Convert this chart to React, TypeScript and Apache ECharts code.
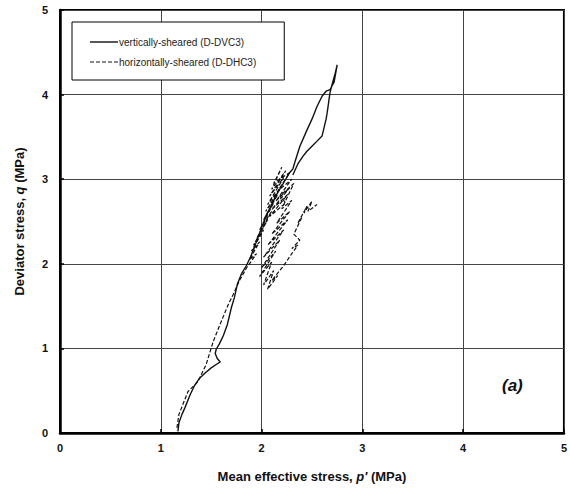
import React, { useEffect, useRef } from "react";
import * as echarts from "echarts";

const xTicks = [0, 1, 2, 3, 4, 5];
const yTicks = [0, 1, 2, 3, 4, 5];

const seriesNames = ["vertically-sheared (D-DVC3)", "horizontally-sheared (D-DHC3)"];

// vertically-sheared (D-DVC3): mean effective stress p' and deviator stress q (MPa)
const vertP = [
  1.17, 1.18, 1.21, 1.24, 1.29, 1.33, 1.38, 1.44, 1.5, 1.55, 1.59, 1.56, 1.54, 1.55, 1.58, 1.62, 1.66, 1.68,
  1.7, 1.73, 1.76, 1.8, 1.85, 1.89, 1.93, 1.97, 2.01, 2.05, 2.1, 2.15, 2.2, 2.25, 2.28, 2.31, 2.33, 2.38, 2.45,
  2.5, 2.55, 2.6, 2.64, 2.68, 2.72, 2.75, 2.73, 2.7, 2.68, 2.67, 2.66, 2.65, 2.64, 2.6, 2.55, 2.5, 2.45, 2.41,
  2.36, 2.31,
];
const vertQ = [
  0.02, 0.12, 0.22, 0.3, 0.45, 0.55, 0.64, 0.71, 0.77, 0.81, 0.84, 0.88, 0.94, 0.99, 1.05, 1.15, 1.28, 1.38,
  1.48, 1.6, 1.76, 1.88, 1.98, 2.08, 2.2, 2.33, 2.46, 2.58, 2.7, 2.82, 2.92, 3.02, 3.08, 3.12, 3.2, 3.39, 3.58,
  3.71, 3.86, 3.98, 4.04, 4.06, 4.15, 4.35, 4.25, 4.12, 4.03, 3.95, 3.86, 3.78, 3.71, 3.51, 3.45, 3.39, 3.33,
  3.27, 3.18, 3.05,
];

// horizontally-sheared (D-DHC3)
const horP = [
  1.16, 1.18, 1.27, 1.37, 1.45, 1.52, 1.59, 1.67, 1.72, 1.78, 1.85,
  1.95, 1.88, 1.98, 1.9, 2.02, 1.92, 2.06, 1.95, 2.1, 1.98, 2.12, 2.02, 2.16, 2.04, 2.2, 2.06, 2.22, 2.08,
  2.24, 2.1, 2.2, 2.12, 2.28, 2.16, 2.3, 2.14, 2.28, 2.1, 2.26, 2.08, 2.24, 2.18, 2.32, 2.2, 2.3, 2.15, 2.28,
  2.1, 2.26, 2.06, 2.22, 2.02, 2.18, 2.0, 2.14, 1.98, 2.1, 2.02, 2.12, 2.06, 2.16, 2.1, 2.22, 2.3, 2.36, 2.3,
  2.38, 2.32, 2.4, 2.36, 2.45, 2.42, 2.5, 2.46, 2.55,
];
const horQ = [
  0.06, 0.22, 0.49, 0.61, 0.81, 1.08, 1.29, 1.52, 1.64, 1.8, 1.95,
  2.12, 2.05, 2.26, 2.15, 2.4, 2.22, 2.52, 2.3, 2.62, 2.4, 2.72, 2.52, 2.82, 2.62, 2.92, 2.7, 3.02, 2.8,
  3.1, 2.88, 3.14, 2.95, 3.08, 2.86, 3.0, 2.74, 2.9, 2.64, 2.82, 2.56, 2.72, 2.8, 2.95, 2.65, 2.75, 2.48, 2.62,
  2.35, 2.52, 2.22, 2.4, 2.08, 2.28, 1.95, 2.15, 1.85, 2.02, 1.75, 1.92, 1.7, 1.86, 1.8, 1.98, 2.12, 2.22, 2.18,
  2.28, 2.35, 2.55, 2.48, 2.68, 2.6, 2.74, 2.62, 2.7,
];

const FONT = "'Liberation Sans', Arial, sans-serif";

const solidIcon = "path://M0,0h28v1.4h-28z";
const dashedIcon =
  "path://M0,0h4v1.2h-4zM6,0h4v1.2h-4zM12,0h4v1.2h-4zM18,0h4v1.2h-4zM24,0h4v1.2h-4z";

export default function App() {
  const ref = useRef<HTMLDivElement>(null);
  useEffect(() => {
    if (!ref.current) return;
    const chart = echarts.init(ref.current, undefined, { renderer: "svg" });
    const vertData = vertP.map((p, i) => [p, vertQ[i]]);
    const horData = horP.map((p, i) => [p, horQ[i]]);
    chart.setOption({
      animation: false,
      backgroundColor: "#fff",
      textStyle: { fontFamily: FONT },
      grid: {
        left: 60,
        right: 4,
        top: 10,
        bottom: 59,
        show: true,
        borderColor: "#000",
        borderWidth: 2,
      },
      legend: {
        left: 72,
        top: 22,
        orient: "vertical",
        backgroundColor: "#fff",
        borderColor: "#000",
        borderWidth: 1,
        padding: [15, 28, 13, 18],
        itemGap: 10,
        itemWidth: 28,
        itemHeight: 10,
        textStyle: { fontFamily: FONT, fontSize: 10, color: "#222", padding: [0, 0, 0, -4] },
        data: [
          { name: seriesNames[0], icon: solidIcon, itemStyle: { color: "#111" } },
          { name: seriesNames[1], icon: dashedIcon, itemStyle: { color: "#111" } },
        ],
      },
      xAxis: {
        type: "value",
        min: 0,
        max: 5,
        interval: 1,
        name: "{b|Mean effective stress, }{i|p'}{b| (MPa)}",
        nameLocation: "middle",
        nameGap: 37,
        nameTextStyle: {
          rich: {
            b: { fontFamily: FONT, fontSize: 13, fontWeight: "bold", color: "#111" },
            i: { fontFamily: FONT, fontSize: 13, fontWeight: "bold", fontStyle: "italic", color: "#111" },
          },
        },
        axisLine: { show: true, onZero: false, lineStyle: { color: "#000", width: 2.5 } },
        axisTick: { show: true, inside: true, length: 4, lineStyle: { color: "#000", width: 1.5 } },
        axisLabel: {
          fontFamily: FONT,
          fontSize: 11,
          fontWeight: "bold",
          color: "#111",
          margin: 9,
          formatter: (v: number) => (xTicks.includes(v) ? String(v) : ""),
        },
        splitLine: { show: true, lineStyle: { color: "#444", width: 1 } },
      },
      yAxis: {
        type: "value",
        min: 0,
        max: 5,
        interval: 1,
        name: "{b|Deviator stress, }{i|q}{b| (MPa)}",
        nameLocation: "middle",
        nameGap: 34,
        nameTextStyle: {
          rich: {
            b: { fontFamily: FONT, fontSize: 13, fontWeight: "bold", color: "#111" },
            i: { fontFamily: FONT, fontSize: 13, fontWeight: "bold", fontStyle: "italic", color: "#111" },
          },
        },
        axisLine: { show: true, onZero: false, lineStyle: { color: "#000", width: 2.5 } },
        axisTick: { show: true, inside: true, length: 4, lineStyle: { color: "#000", width: 1.5 } },
        axisLabel: {
          fontFamily: FONT,
          fontSize: 11,
          fontWeight: "bold",
          color: "#111",
          margin: 12,
          formatter: (v: number) => (yTicks.includes(v) ? String(v) : ""),
        },
        splitLine: { show: true, lineStyle: { color: "#444", width: 1 } },
      },
      graphic: [
        {
          type: "text",
          left: 502,
          top: 377,
          style: {
            text: "(a)",
            fontFamily: FONT,
            fontSize: 17,
            fontWeight: "bold",
            fontStyle: "italic",
            fill: "#111",
          },
        },
      ],
      series: [
        {
          name: seriesNames[0],
          type: "line",
          data: vertData,
          symbol: "none",
          lineStyle: { color: "#111", width: 1.4, type: "solid" },
          itemStyle: { color: "#111" },
          z: 3,
        },
        {
          name: seriesNames[1],
          type: "line",
          data: horData,
          symbol: "none",
          lineStyle: { color: "#111", width: 1.2, type: [4, 2] },
          itemStyle: { color: "#111" },
          z: 4,
        },
      ],
    });
    return () => chart.dispose();
  }, []);
  return (
    <div
      ref={ref}
      style={{ position: "absolute", left: 0, top: 0, width: 570, height: 492, background: "#fff" }}
    />
  );
}
